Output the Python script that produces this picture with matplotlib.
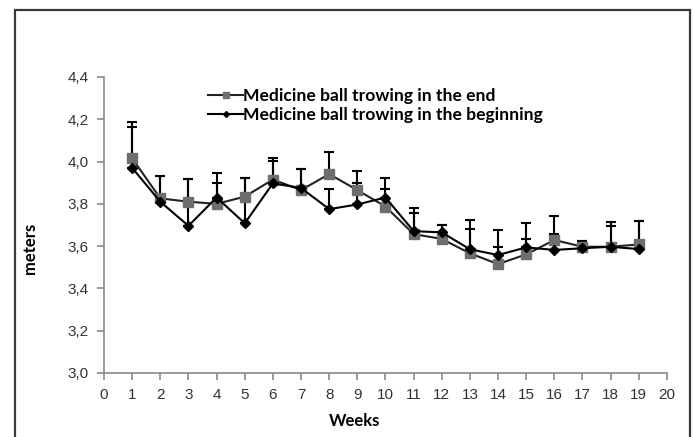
import numpy as np
import matplotlib
matplotlib.use("Agg")
import matplotlib.pyplot as plt
from matplotlib.patches import Rectangle

weeks = np.arange(1, 20)

# medicine ball throwing measured at the end of the session (grey squares)
end_mean = [4.015, 3.826, 3.81, 3.80, 3.834, 3.915, 3.865, 3.941, 3.865, 3.787,
            3.657, 3.634, 3.566, 3.515, 3.561, 3.629, 3.597, 3.597, 3.608]
end_top = [4.187, 3.93, 3.917, 3.944, 3.92, 4.018, 3.965, 4.046, 3.957, 3.92,
           3.782, 3.70, 3.722, 3.675, 3.708, 3.742, 3.625, 3.715, 3.719]

# measured at the beginning of the session (black diamonds)
beg_mean = [3.97, 3.81, 3.696, 3.83, 3.708, 3.897, 3.875, 3.775, 3.797, 3.83,
            3.671, 3.665, 3.585, 3.558, 3.594, 3.582, 3.59, 3.597, 3.586]
beg_top = [4.165, 3.93, 3.917, 3.897, 3.92, 4.004, 3.965, 3.87, 3.90, 3.868,
           3.758, 3.70, 3.679, 3.597, 3.634, 3.657, 3.625, 3.695, 3.719]

end_err = np.array(end_top) - np.array(end_mean)
beg_err = np.array(beg_top) - np.array(beg_mean)

fig = plt.figure(figsize=(6.94, 4.37), dpi=100)
ax = fig.add_axes([0.1499, 0.1465, 0.961 - 0.1499, 0.8238 - 0.1465])

# outer frame around the figure
fig.patches.append(Rectangle((15 / 694, -0.05), (690 - 15) / 694, 1.05 - 10 / 437,
                             transform=fig.transFigure, fill=False,
                             edgecolor="#3a3a3a", linewidth=1.6))

ax.errorbar(weeks, end_mean, yerr=[np.zeros(len(weeks)), end_err], fmt="none",
            ecolor="black", elinewidth=1.5, capsize=3.5, capthick=1.5, zorder=2)
ax.errorbar(weeks, beg_mean, yerr=[np.zeros(len(weeks)), beg_err], fmt="none",
            ecolor="black", elinewidth=1.5, capsize=3.5, capthick=1.5, zorder=2)

ax.plot(weeks, end_mean, color="#222222", lw=1.5, marker="s", ms=7,
        mfc="#6e6e6e", mec="#6e6e6e", zorder=3,
        label="Medicine ball trowing in the end")
ax.plot(weeks, beg_mean, color="black", lw=1.5, marker="D", ms=5,
        mfc="black", mec="black", zorder=4,
        label="Medicine ball trowing in the beginning")

ax.set_xlim(0, 20)
ax.set_ylim(3.0, 4.4)
ax.set_xticks(range(0, 21))
yt = np.arange(3.0, 4.41, 0.2)
ax.set_yticks(yt)
ax.set_yticklabels([("%.1f" % v).replace(".", ",") for v in yt])

for s in ["top", "right"]:
    ax.spines[s].set_visible(False)
for s in ["left", "bottom"]:
    ax.spines[s].set_color("#8a8a8a")
    ax.spines[s].set_linewidth(1.2)
ax.tick_params(colors="#8a8a8a", labelcolor="#333333", length=5, width=1.2,
               labelsize=11)
for lab in ax.get_xticklabels() + ax.get_yticklabels():
    lab.set_fontfamily("Liberation Sans")
ax.tick_params(axis="x", pad=6)
ax.tick_params(axis="y", pad=6)

ax.set_xlabel("Weeks", fontfamily="Lato", fontweight="bold", fontsize=12)
ax.set_ylabel("meters", fontfamily="Lato", fontweight="bold", fontsize=12)
ax.xaxis.set_label_coords((355 - 104) / (667 - 104), -0.135)
ax.yaxis.set_label_coords(-0.118, 1 - (248 - 77) / (373 - 77))

leg = ax.legend(loc="upper left", bbox_to_anchor=((208 - 104) / (667 - 104), 1 - (88 - 77) / 296),
                frameon=False, prop={"family": "Lato", "weight": "bold", "size": 12.6},
                handlelength=2.0, handletextpad=0.0, labelspacing=0.2,
                borderaxespad=0, borderpad=0, markerscale=0.6)

fig.savefig("out.png", dpi=100)
